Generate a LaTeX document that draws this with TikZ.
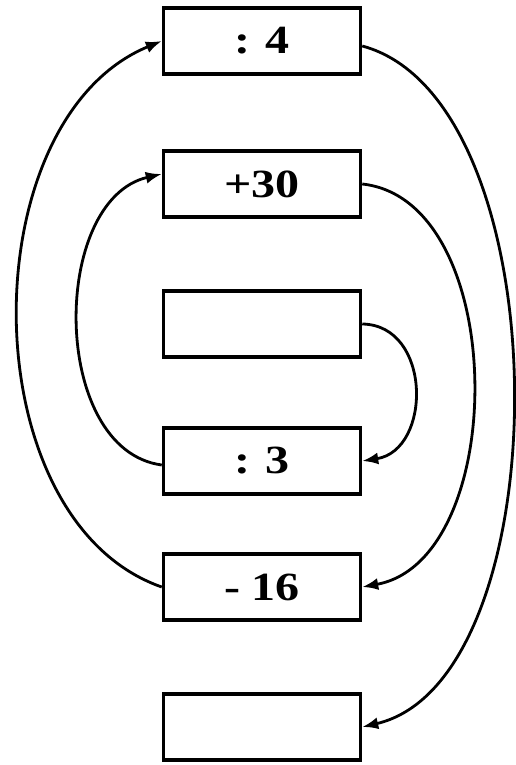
\documentclass[tikz,border=0pt]{standalone}
\usepackage{fontspec}
\setmainfont{Liberation Serif}
\usetikzlibrary{arrows.meta, calc}
\colorlet{rule}{black}
\newcommand{\optxt}[1]{\scalebox{1.2}[1]{#1}}
\tikzset{
  opbox/.style  ={draw=rule, line width=3.5pt, fill=white,
                  minimum width=197pt, minimum height=66pt, inner sep=0pt,
                  font=\fontsize{40}{40}\selectfont\bfseries},
  loop/.style   ={-{Latex[length=16pt, width=12pt]}, rule,
                  line width=2.8pt},
}

\begin{document}
\begin{tikzpicture}[x=1pt, y=-1pt]
\useasboundingbox (0,0) rectangle (516,765);

% the six steps
\node[opbox] (b1) at (262, 41)  {\optxt{: 4}};
\node[opbox] (b2) at (262, 184) {\optxt{+30}};
\node[opbox] (b3) at (262, 324) {};
\node[opbox] (b4) at (262, 461) {\optxt{: 3}};
\node[opbox] (b5) at (262, 587) {\optxt{- 16}};
\node[opbox] (b6) at (262, 727) {};

% right side, downwards
\draw[loop] (b3.east) .. controls (432,325) and (432,450) .. (b4.east);
\draw[loop] (b2.east) .. controls (510,200) and (510,560) .. (b5.east);
\draw[loop] ($(b1.east)+(0,5)$) .. controls (563,100) and (563,680) .. (b6.east);

% left side, upwards
\draw[loop] ($(b4.west)+(0,4)$) .. controls (50,450) and (50,200) .. ($(b2.west)+(0,-10)$);
\draw[loop] (b5.west) .. controls (-30,520) and (-30,120) .. (b1.west);

\end{tikzpicture}
\end{document}
